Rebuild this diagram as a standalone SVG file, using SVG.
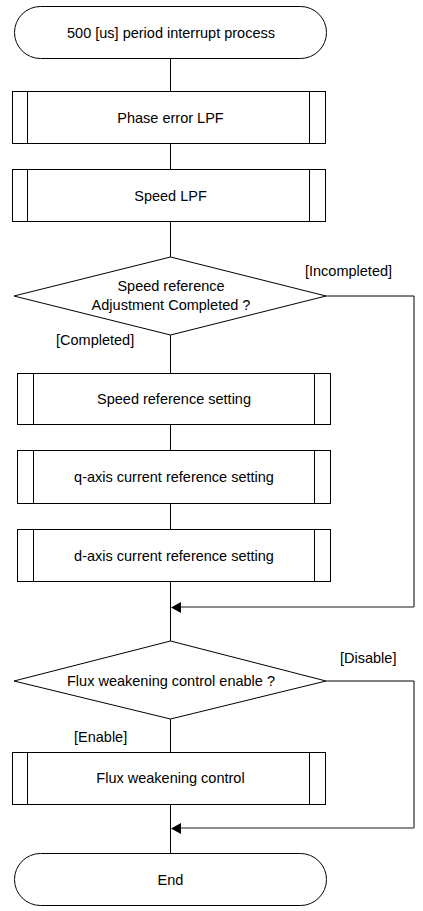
<svg xmlns="http://www.w3.org/2000/svg" width="423" height="911" viewBox="0 0 423 911">
<style>
text{font-family:"Liberation Sans",Arial,sans-serif;font-size:14.5px;fill:#000;text-anchor:middle;dominant-baseline:central}
.s{fill:#fff;stroke:#000;stroke-width:1}
.l{fill:none;stroke:#000;stroke-width:1}
.g{fill:none;stroke:#666;stroke-width:1.5}
.lb{text-anchor:start}
</style>
<g id="connectors">
<line class="l" x1="170.5" y1="58" x2="170.5" y2="91"/>
<line class="l" x1="170.5" y1="143" x2="170.5" y2="169"/>
<line class="l" x1="170.5" y1="221" x2="170.5" y2="257"/>
<line class="l" x1="170.5" y1="335" x2="170.5" y2="373"/>
<line class="l" x1="170.5" y1="424" x2="170.5" y2="450"/>
<line class="l" x1="170.5" y1="503" x2="170.5" y2="529"/>
<line class="l" x1="170.5" y1="581" x2="170.5" y2="641"/>
<polyline class="l" points="326,296 414,296 414,607"/>
<line class="g" x1="414" y1="607" x2="180" y2="607"/>
<path d="M181,602 L171,607.5 L181,613 Z" fill="#000"/>
<line class="l" x1="170.5" y1="719" x2="170.5" y2="752"/>
<line class="l" x1="170.5" y1="804" x2="170.5" y2="853"/>
<polyline class="l" points="326,681 414,681 414,828"/>
<line class="g" x1="414" y1="828" x2="180" y2="828"/>
<path d="M181,823 L171,828.5 L181,834 Z" fill="#000"/>
<text class="lb" x="305" y="271">[Incompleted]</text>
<text class="lb" x="56" y="340">[Completed]</text>
<text class="lb" x="340" y="658">[Disable]</text>
<text class="lb" x="74" y="737">[Enable]</text>
</g>
<g id="start">
<rect class="s" x="14.5" y="6.5" width="312" height="52" rx="26" ry="26"/>
<text x="171" y="33">500 [us] period interrupt process</text>
</g>
<g id="phase">
<rect class="s" x="12.5" y="91.5" width="313" height="52"/>
<line class="l" x1="27.5" y1="91.5" x2="27.5" y2="143.5"/><line class="l" x1="309.5" y1="91.5" x2="309.5" y2="143.5"/>
<text x="170.5" y="118">Phase error LPF</text>
</g>
<g id="speedlpf">
<rect class="s" x="12.5" y="169.5" width="313" height="52"/>
<line class="l" x1="27.5" y1="169.5" x2="27.5" y2="221.5"/><line class="l" x1="309.5" y1="169.5" x2="309.5" y2="221.5"/>
<text x="170.5" y="196">Speed LPF</text>
</g>
<g id="dec1">
<polygon class="s" points="170.5,257 326,296 170.5,335 14,296"/>
<text x="171" y="286">Speed reference</text>
<text x="171" y="305">Adjustment Completed ?</text>
</g>
<g id="speedref">
<rect class="s" x="17.5" y="373.5" width="313" height="51"/>
<line class="l" x1="33.5" y1="373.5" x2="33.5" y2="424.5"/><line class="l" x1="314.5" y1="373.5" x2="314.5" y2="424.5"/>
<text x="174" y="399">Speed reference setting</text>
</g>
<g id="qaxis">
<rect class="s" x="17.5" y="450.5" width="313" height="53"/>
<line class="l" x1="33.5" y1="450.5" x2="33.5" y2="503.5"/><line class="l" x1="314.5" y1="450.5" x2="314.5" y2="503.5"/>
<text x="174" y="477">q-axis current reference setting</text>
</g>
<g id="daxis">
<rect class="s" x="17.5" y="529.5" width="313" height="52"/>
<line class="l" x1="33.5" y1="529.5" x2="33.5" y2="581.5"/><line class="l" x1="314.5" y1="529.5" x2="314.5" y2="581.5"/>
<text x="174" y="556">d-axis current reference setting</text>
</g>
<g id="dec2">
<polygon class="s" points="170.5,641 326,681 170.5,719 14,681"/>
<text x="171" y="681">Flux weakening control enable ?</text>
</g>
<g id="flux">
<rect class="s" x="12.5" y="752.5" width="313" height="52"/>
<line class="l" x1="27.5" y1="752.5" x2="27.5" y2="804.5"/><line class="l" x1="309.5" y1="752.5" x2="309.5" y2="804.5"/>
<text x="170.5" y="778">Flux weakening control</text>
</g>
<g id="end">
<rect class="s" x="14.5" y="853.5" width="312" height="52" rx="26" ry="26"/>
<text x="170.5" y="880">End</text>
</g>
</svg>
